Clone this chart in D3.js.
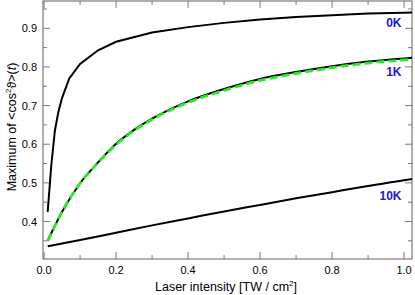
<!DOCTYPE html>
<html><head><meta charset="utf-8">
<script src="https://cdn.jsdelivr.net/npm/d3@7"></script>
<style>body{margin:0;background:#fff}svg{display:block}text{font-family:"Liberation Sans",Arial,sans-serif}</style>
</head><body>
<svg id="c" width="415" height="295"></svg>
<script>
// Data
const intensity0K = [0.01,0.02,0.03,0.04,0.05,0.07,0.1,0.15,0.2,0.3,0.4,0.5,0.6,0.7,0.8,0.9,1.0,1.03];
const max0K       = [0.425,0.545,0.635,0.685,0.72,0.77,0.808,0.843,0.865,0.889,0.903,0.914,0.923,0.929,0.934,0.938,0.940,0.941];
const intensity1K = [0.01,0.05,0.1,0.15,0.2,0.25,0.3,0.4,0.5,0.6,0.7,0.8,0.9,1.0,1.03];
const max1K       = [0.350,0.425,0.499,0.553,0.601,0.637,0.666,0.711,0.743,0.769,0.787,0.802,0.814,0.822,0.824];
const max1Kalt    = [0.350,0.425,0.499,0.552,0.599,0.635,0.664,0.708,0.739,0.765,0.783,0.798,0.810,0.818,0.820];
const intensity10K= [0.01,0.1,0.2,0.3,0.4,0.5,0.6,0.7,0.8,0.9,1.0,1.03];
const max10K      = [0.336,0.352,0.371,0.390,0.408,0.426,0.443,0.460,0.476,0.492,0.507,0.511];
const xTicks = [0.0,0.2,0.4,0.6,0.8,1.0];
const yTicks = [0.4,0.5,0.6,0.7,0.8,0.9];
const labels = ["0K","1K","10K"];
const labelY = [0.935,0.808,0.485];

const svg = d3.select("#c");
const L=43,R=412,T=1,B=259;
const x = d3.scaleLinear().domain([-0.003,1.022]).range([L,R]);
const y = d3.scaleLinear().domain([0.303,0.9706]).range([B,T]);

svg.append("clipPath").attr("id","clip").append("rect").attr("x",L).attr("y",T).attr("width",R-L).attr("height",B-T);

const axisColor="#7a7a7a";
const g = svg.append("g");
// frame
g.append("rect").attr("x",L).attr("y",T).attr("width",R-L).attr("height",B-T)
 .attr("fill","none").attr("stroke",axisColor).attr("stroke-width",1.2);

const xMinor = d3.range(0.1,1.01,0.2);
const yMinor = d3.range(0.35,0.97,0.1);
function tickLines(vals,len,isX){
  vals.forEach(v=>{
    if(isX){
      const px=x(v);
      g.append("line").attr("x1",px).attr("x2",px).attr("y1",B).attr("y2",B-len).attr("stroke",axisColor);
      g.append("line").attr("x1",px).attr("x2",px).attr("y1",T).attr("y2",T+len).attr("stroke",axisColor);
    } else {
      const py=y(v);
      g.append("line").attr("y1",py).attr("y2",py).attr("x1",L).attr("x2",L+len).attr("stroke",axisColor);
      g.append("line").attr("y1",py).attr("y2",py).attr("x1",R).attr("x2",R-len).attr("stroke",axisColor);
    }
  });
}
tickLines(xTicks,7,true); tickLines(xMinor,4,true);
tickLines(yTicks,7,false); tickLines(yMinor,4,false);

g.selectAll(".xl").data(xTicks).enter().append("text")
 .attr("x",d=>x(d)).attr("y",274).attr("text-anchor","middle").attr("font-size",11).attr("fill","#000")
 .text(d=>d3.format(".1f")(d));
g.selectAll(".yl").data(yTicks).enter().append("text")
 .attr("x",37).attr("y",d=>y(d)+4).attr("text-anchor","end").attr("font-size",11).attr("fill","#000")
 .text(d=>d3.format(".1f")(d));

// axis titles
const xt = g.append("text").attr("x",226).attr("y",291).attr("text-anchor","middle").attr("font-size",12.5);
xt.append("tspan").text("Laser intensity [TW / cm");
xt.append("tspan").attr("font-size",8).attr("dy",-5).text("2");
xt.append("tspan").attr("dy",5).text("]");

const yt = g.append("text").attr("transform","translate(15.5,127) rotate(-90)").attr("text-anchor","middle").attr("font-size",12.5);
yt.append("tspan").text("Maximum of <cos");
yt.append("tspan").attr("font-size",8).attr("dy",-5).text("2");
yt.append("tspan").attr("dy",5).text("\u03D1>(");
yt.append("tspan").attr("font-style","italic").text("t");
yt.append("tspan").text(")");

// curves
const plot = svg.append("g").attr("clip-path","url(#clip)");
function pts(xs,ys){return xs.map((v,i)=>[v,ys[i]]);}
const lineLin = d3.line().x(d=>x(d[0])).y(d=>y(d[1]));
const lineSm = d3.line().x(d=>x(d[0])).y(d=>y(d[1])).curve(d3.curveMonotoneX);
plot.append("path").attr("d",lineLin(pts(intensity0K,max0K))).attr("fill","none").attr("stroke","#000").attr("stroke-width",2);
plot.append("path").attr("d",lineSm(pts(intensity10K,max10K))).attr("fill","none").attr("stroke","#000").attr("stroke-width",2);
plot.append("path").attr("d",lineSm(pts(intensity1K,max1K))).attr("fill","none").attr("stroke","#000").attr("stroke-width",2);
plot.append("path").attr("d",lineSm(pts(intensity1K,max1Kalt))).attr("fill","none").attr("stroke","#22ee22").attr("stroke-width",2.8).attr("stroke-dasharray","8,4");

// labels
g.selectAll(".lab").data(labels).enter().append("text")
 .attr("x",401.5).attr("y",(d,i)=>[27,76,200][i]).attr("text-anchor","end")
 .attr("font-size",12).attr("font-weight","bold").attr("fill","#1a1ad8").text(d=>d);
</script>
</body></html>
